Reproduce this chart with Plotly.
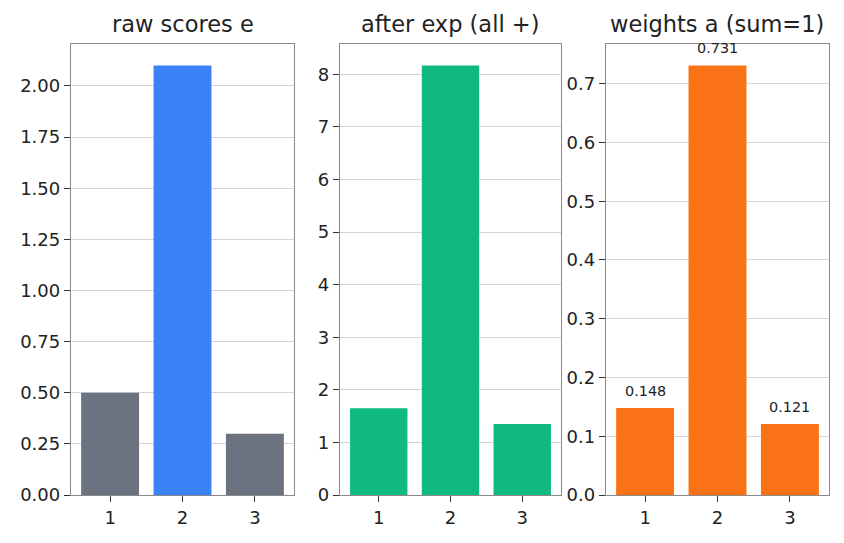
import plotly.graph_objects as go

categories = [1, 2, 3]
raw_scores = [0.5, 2.1, 0.3]
exp_scores = [1.6487, 8.1662, 1.3499]
weights = [0.148, 0.731, 0.121]
weight_labels = ["0.148", "0.731", "0.121"]
titles = ["raw scores e", "after exp (all +)", "weights a (sum=1)"]

raw_colors = ["#6b7280", "#3b82f6", "#6b7280"]
exp_color = "#10b981"
w_color = "#f97316"

FONT = "DejaVu Sans"
fig = go.Figure()

fig.add_trace(go.Bar(x=categories, y=raw_scores, marker_color=raw_colors, width=0.8,
                     marker_line_width=0, xaxis="x", yaxis="y"))
fig.add_trace(go.Bar(x=categories, y=exp_scores, marker_color=exp_color, width=0.8,
                     marker_line_width=0, xaxis="x2", yaxis="y2"))
fig.add_trace(go.Bar(x=categories, y=weights, marker_color=w_color, width=0.8,
                     marker_line_width=0, xaxis="x3", yaxis="y3"))

domains = [[0.0, 0.2942], [0.3549, 0.6464], [0.7058, 1.0]]
yranges = [[0, max(raw_scores) * 1.05], [0, max(exp_scores) * 1.05], [0, max(weights) * 1.05]]
ydtick = [0.25, 1, 0.1]
yfmt = [".2f", "d", ".1f"]

common_x = dict(range=[0.46, 3.54], tickvals=categories, ticktext=[str(c) for c in categories],
                showgrid=False, zeroline=False, showline=True, linecolor="#8a8a8a", linewidth=1.3,
                mirror=True, ticks="outside", ticklen=6, tickwidth=1.4, tickcolor="#333333",
                tickfont=dict(family=FONT, size=18, color="#222222"), fixedrange=True)
layout = {}
for i in range(3):
    sx = "" if i == 0 else str(i + 1)
    layout["xaxis" + sx] = dict(common_x, domain=domains[i], anchor="y" + sx)
    layout["yaxis" + sx] = dict(range=yranges[i], dtick=ydtick[i], tick0=0, tickformat=yfmt[i],
                                showgrid=True, gridcolor="#d4d4d8", gridwidth=0.8, layer="above traces",
                                zeroline=False, showline=True, linecolor="#8a8a8a", linewidth=1.3,
                                mirror=True, ticks="outside", ticklen=6, tickwidth=1.4,
                                tickcolor="#333333",
                                tickfont=dict(family=FONT, size=18, color="#222222"),
                                anchor="x" + sx, fixedrange=True)

annotations = []
for i in range(3):
    annotations.append(dict(text=titles[i], x=(domains[i][0] + domains[i][1]) / 2, y=1.0,
                            xref="paper", yref="paper", xanchor="center", yanchor="bottom",
                            yshift=5, showarrow=False,
                            font=dict(family=FONT, size=22.5, color="#222222")))
for c, v, lab in zip(categories, weights, weight_labels):
    annotations.append(dict(text=lab, x=c, y=v, xref="x3", yref="y3", xanchor="center",
                            yanchor="bottom", yshift=7, showarrow=False,
                            font=dict(family=FONT, size=14.4, color="#222222")))

fig.update_layout(**layout)
fig.update_layout(annotations=annotations, showlegend=False, width=844, height=543,
                  margin=dict(l=71, r=15, t=44, b=48), plot_bgcolor="white",
                  paper_bgcolor="white", bargap=0.2, font=dict(family=FONT))

fig.write_html("out.html")
